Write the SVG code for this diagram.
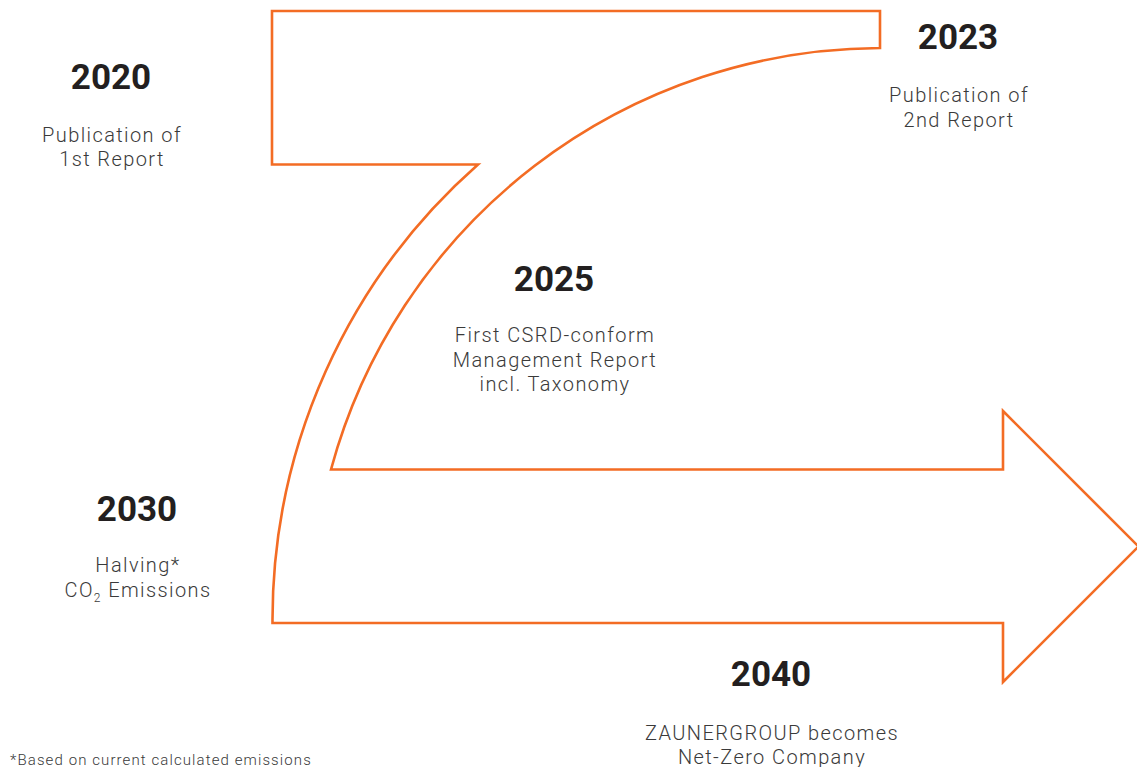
<svg xmlns="http://www.w3.org/2000/svg" width="1137" height="767" viewBox="0 0 1137 767">
  <style>
    .arrow { fill: none; stroke: #F36C24; stroke-width: 2.6; stroke-linejoin: miter; }
    .year { font-family: Roboto, "Liberation Sans", sans-serif; font-weight: 700; font-size: 35px; fill: #231f20; text-anchor: middle; }
    .desc { font-family: Roboto, "Liberation Sans", sans-serif; font-weight: 300; font-size: 20px; letter-spacing: 1.4px; fill: #3a3a3a; text-anchor: middle; }
    .note { font-family: Roboto, "Liberation Sans", sans-serif; font-weight: 300; font-size: 15px; letter-spacing: 1.1px; fill: #3a3a3a; }
  </style>
  <rect width="1137" height="767" fill="#ffffff"/>
  <g id="connectors">
    <path class="arrow" d="M 272 11 H 880 V 48 A 571 571 0 0 0 331 469.5 H 1003 V 411 L 1138.5 546.5 L 1003 682 V 623 H 272.5 A 607 607 0 0 1 478 164.5 H 272 Z"/>
  </g>
  <g id="m2020">
    <text class="year" x="111" y="88.5">2020</text>
    <text class="desc" x="112" y="141.5">Publication of</text>
    <text class="desc" x="112" y="166">1st Report</text>
  </g>
  <g id="m2023">
    <text class="year" x="958" y="48.5">2023</text>
    <text class="desc" x="959" y="101.5">Publication of</text>
    <text class="desc" x="959" y="126.5">2nd Report</text>
  </g>
  <g id="m2025">
    <text class="year" x="554" y="290.5">2025</text>
    <text class="desc" x="555" y="341.5">First CSRD-conform</text>
    <text class="desc" x="555" y="366.5">Management Report</text>
    <text class="desc" x="555" y="391">incl. Taxonomy</text>
  </g>
  <g id="m2030">
    <text class="year" x="137" y="520.5">2030</text>
    <text class="desc" x="138" y="571.5">Halving*</text>
    <text class="desc" x="138" y="596.5">CO<tspan font-size="12" dy="5">2</tspan><tspan dy="-5"> Emissions</tspan></text>
  </g>
  <g id="m2040">
    <text class="year" x="771" y="685.5">2040</text>
    <text class="desc" x="772" y="740">ZAUNERGROUP becomes</text>
    <text class="desc" x="772" y="764">Net-Zero Company</text>
  </g>
  <g id="footnote">
    <text class="note" x="10" y="765">*Based on current calculated emissions</text>
  </g>
</svg>
